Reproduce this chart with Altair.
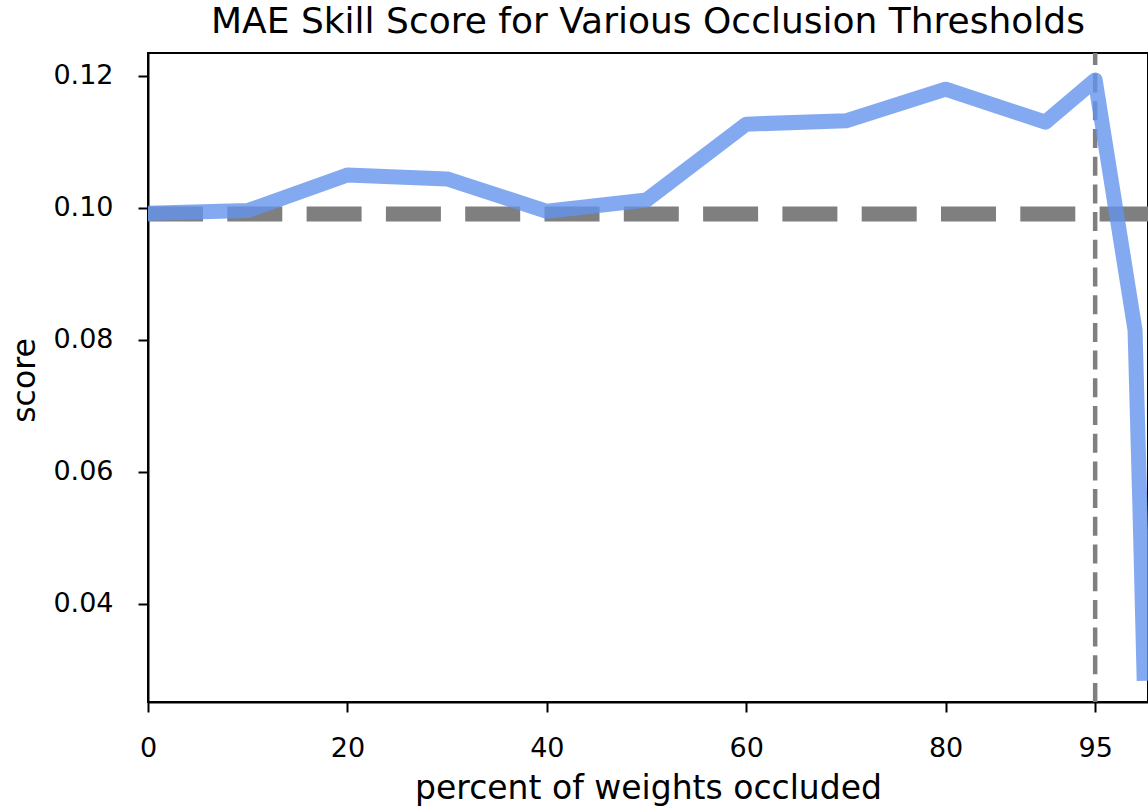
import altair as alt
import pandas as pd

# data
pct = [0, 10, 20, 30, 40, 50, 60, 70, 80, 90, 95, 99, 99.5, 99.9]
score = [0.0992, 0.0996, 0.1050, 0.1044, 0.0995, 0.1012, 0.1127, 0.1132,
         0.1180, 0.1130, 0.1194, 0.0815, 0.0540, 0.0295]
baseline_score = 0.0991
threshold = 95
x_ticks = [0, 20, 40, 60, 80, 95]
y_ticks = [0.04, 0.06, 0.08, 0.10, 0.12]

X_DOM = [0, 100.3]
Y_DOM = [0.02515, 0.12348]

df = pd.DataFrame({"pct": pct, "score": score})
hdf = pd.DataFrame({"x": [X_DOM[0]], "x2": [X_DOM[1]], "y": [baseline_score]})
vdf = pd.DataFrame({"x": [threshold], "y": [Y_DOM[0]], "y2": [Y_DOM[1]]})

FONT = "DejaVu Sans"

xscale = alt.Scale(domain=X_DOM, nice=False, zero=False)
yscale = alt.Scale(domain=Y_DOM, nice=False, zero=False)

xaxis = alt.Axis(values=x_ticks, format="d", grid=False, tickSize=10, tickWidth=2,
                 domainWidth=2, domainColor="black", tickColor="black",
                 labelFont=FONT, labelFontSize=27, labelColor="black",
                 labelPadding=23, labelFlush=False,
                 title="percent of weights occluded", titleFont=FONT,
                 titleFontSize=33, titleFontWeight="normal", titleColor="black",
                 titleX=500, titleY=96, titleAlign="center", titleBaseline="alphabetic")
yaxis = alt.Axis(values=y_ticks, format=".2f", grid=False, tickSize=10, tickWidth=2,
                 domainWidth=2, domainColor="black", tickColor="black",
                 labelFont=FONT, labelFontSize=27, labelColor="black",
                 labelPadding=25, labelFlush=False,
                 title="score", titleFont=FONT, titleFontSize=31.5,
                 titleFontWeight="normal", titleColor="black",
                 titleX=-114, titleY=327, titleAngle=270, titleAlign="center",
                 titleBaseline="alphabetic")

hline = alt.Chart(hdf).mark_rule(color="#7f7f7f", strokeWidth=15,
                                 strokeDash=[55, 24.3], clip=True).encode(
    x=alt.X("x:Q", scale=xscale, axis=xaxis),
    x2="x2:Q",
    y=alt.Y("y:Q", scale=yscale, axis=yaxis),
)

vline = alt.Chart(vdf).mark_rule(color="#7f7f7f", strokeWidth=4.5,
                                 strokeDash=[19, 8.7], clip=True).encode(
    x=alt.X("x:Q", scale=xscale),
    y=alt.Y("y:Q", scale=yscale),
    y2="y2:Q",
)

line = alt.Chart(df).mark_line(color="#6495ED", opacity=0.8, strokeWidth=15,
                               strokeJoin="round", strokeCap="square", clip=True).encode(
    x=alt.X("pct:Q", scale=xscale),
    y=alt.Y("score:Q", scale=yscale),
)

chart = alt.layer(hline, vline, line).properties(
    width=1000,
    height=649,
    background="white",
    title=alt.TitleParams(
        "MAE Skill Score for Various Occlusion Thresholds",
        font=FONT, fontSize=36, fontWeight="normal", color="black",
        anchor="middle", offset=12,
    ),
    padding={"left": 148, "top": 53, "right": 0, "bottom": 110},
    autosize=alt.AutoSizeParams(type="none"),
).configure_view(stroke="black", strokeWidth=2)

chart.save("out.html", embed_options={"renderer": "svg", "actions": False})
